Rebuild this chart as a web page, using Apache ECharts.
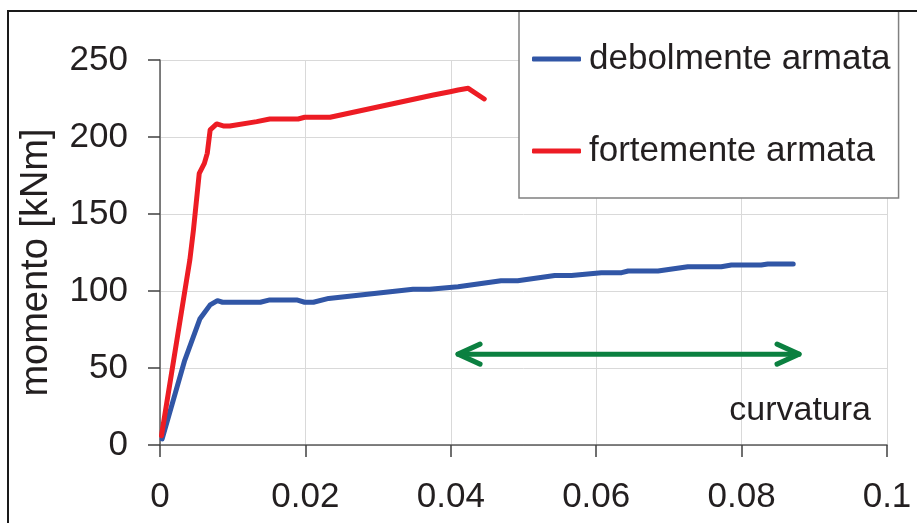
<!DOCTYPE html>
<html>
<head>
<meta charset="utf-8">
<script src="https://cdn.jsdelivr.net/npm/echarts@6/dist/echarts.min.js"></script>
<style>
html,body{margin:0;padding:0;background:#fff;}
#chart{width:917px;height:523px;}
</style>
</head>
<body>
<div id="chart"></div>
<script>
// ---- data ----
const seriesNames = ['debolmente armata', 'fortemente armata'];

const deboleX = [0.0003, 0.0034, 0.0055, 0.0069, 0.0079, 0.0086, 0.0138, 0.0151, 0.0188, 0.0199, 0.0211, 0.0232, 0.0348, 0.0371, 0.0410, 0.0469, 0.0492, 0.0543, 0.0566, 0.0607, 0.0635, 0.0644, 0.0685, 0.0726, 0.0772, 0.0786, 0.0827, 0.0836, 0.0871];
const deboleY = [4, 55, 82, 91, 93.7, 92.7, 92.7, 94.2, 94.2, 92.7, 92.7, 95.2, 101.1, 101.1, 102.8, 106.7, 106.7, 110, 110, 111.9, 111.9, 113, 113, 115.8, 115.8, 116.9, 116.9, 117.5, 117.5];

const forteX = [0.0002, 0.0034, 0.0041, 0.0046, 0.0054, 0.0061, 0.0065, 0.0069, 0.0078, 0.0087, 0.0096, 0.0133, 0.0151, 0.0190, 0.0199, 0.0234, 0.0376, 0.0399, 0.0410, 0.0424, 0.0446];
const forteY = [6, 99.6, 120, 139.6, 176.4, 182.9, 189.4, 204.6, 208.5, 207.2, 207.2, 210, 211.7, 211.7, 212.8, 212.8, 227.3, 229.4, 230.5, 231.6, 224.7];

// double-headed arrow: [x start, x end, y]
const arrowSpan = [0.0410, 0.0879, 59];

const xTickLabels = ['0', '0.02', '0.04', '0.06', '0.08', '0.1'];
const yTickLabels = ['0', '50', '100', '150', '200', '250'];

const yAxisTitle = 'momento [kNm]';
const xAxisNote = 'curvatura';

// ---- chart ----
const FONT = '"Liberation Sans", Arial, sans-serif';
const TXT = '#231f20';
const BLUE = '#3156a6';
const RED = '#ed1c24';
const GREEN = '#0b8040';

function pairs(xs, ys) { return xs.map((x, i) => [x, ys[i]]); }

const chart = echarts.init(document.getElementById('chart'), null, {renderer: 'canvas'});

const option = {
  animation: false,
  backgroundColor: '#ffffff',
  textStyle: {fontFamily: FONT},
  grid: {left: 160, right: 30, top: 60, bottom: 78},
  legend: {
    data: seriesNames,
    orient: 'vertical',
    left: 519,
    top: 11,
    padding: [28, 8, 27, 13],
    itemGap: 52,
    itemWidth: 49,
    itemHeight: 5,
    icon: 'roundRect',
    borderColor: '#808080',
    borderWidth: 1.5,
    backgroundColor: '#ffffff',
    textStyle: {fontFamily: FONT, fontSize: 35, color: TXT, lineHeight: 40, padding: [0, 0, 0, 3]}
  },
  xAxis: {
    type: 'value',
    min: 0, max: 0.1, interval: 0.02,
    axisLine: {show: true, onZero: false, lineStyle: {color: '#595959', width: 1.5}},
    axisTick: {show: true, length: 12, lineStyle: {color: '#404040', width: 1.5}},
    splitLine: {show: true, lineStyle: {color: '#d9d9d9', width: 1}},
    axisLabel: {
      margin: 35, fontFamily: FONT, fontSize: 35, color: TXT,
      formatter: function (v) { return xTickLabels[Math.round(v / 0.02)]; }
    }
  },
  yAxis: {
    type: 'value',
    min: 0, max: 250, interval: 50,
    name: yAxisTitle,
    nameLocation: 'middle',
    nameRotate: 90,
    nameGap: 104,
    nameTextStyle: {fontFamily: FONT, fontSize: 38, color: TXT, padding: [0, 20, 0, 0]},
    axisLine: {show: true, lineStyle: {color: '#595959', width: 1.5}},
    axisTick: {show: true, length: 12, lineStyle: {color: '#404040', width: 1.5}},
    splitLine: {show: true, lineStyle: {color: '#d9d9d9', width: 1}},
    axisLabel: {
      margin: 32, fontFamily: FONT, fontSize: 35, color: TXT,
      formatter: function (v) { return yTickLabels[Math.round(v / 50)]; }
    }
  },
  graphic: [
    {
      type: 'rect', z: 100, silent: true,
      shape: {x: 8, y: 11, width: 1000, height: 1000},
      style: {fill: null, stroke: '#1a1a1a', lineWidth: 2}
    },
    {
      type: 'text', z: 50,
      style: {
        x: 871, y: 411, text: xAxisNote,
        font: '34px ' + FONT, fill: TXT,
        textAlign: 'right', textVerticalAlign: 'middle'
      }
    }
  ],
  series: [
    {
      name: seriesNames[0], type: 'line',
      data: pairs(deboleX, deboleY),
      showSymbol: false, symbol: 'none',
      lineStyle: {color: BLUE, width: 5, cap: 'round', join: 'round'},
      itemStyle: {color: BLUE}
    },
    {
      name: seriesNames[1], type: 'line',
      data: pairs(forteX, forteY),
      showSymbol: false, symbol: 'none',
      lineStyle: {color: RED, width: 5, cap: 'round', join: 'round'},
      itemStyle: {color: RED}
    },
    {
      name: 'arrow', type: 'custom',
      data: [arrowSpan],
      encode: {x: [0, 1], y: 2},
      renderItem: function (params, api) {
        const a = api.coord([api.value(0), api.value(2)]);
        const b = api.coord([api.value(1), api.value(2)]);
        const st = {stroke: GREEN, lineWidth: 5, lineCap: 'round', lineJoin: 'round', fill: null};
        return {
          type: 'group',
          children: [
            {type: 'line', shape: {x1: a[0], y1: a[1], x2: b[0], y2: b[1]}, style: st},
            {type: 'polyline', shape: {points: [[a[0] + 22, a[1] - 10], [a[0], a[1]], [a[0] + 22, a[1] + 10]]}, style: st},
            {type: 'polyline', shape: {points: [[b[0] - 22, b[1] - 10], [b[0], b[1]], [b[0] - 22, b[1] + 10]]}, style: st}
          ]
        };
      }
    }
  ]
};

chart.setOption(option);
</script>
</body>
</html>
